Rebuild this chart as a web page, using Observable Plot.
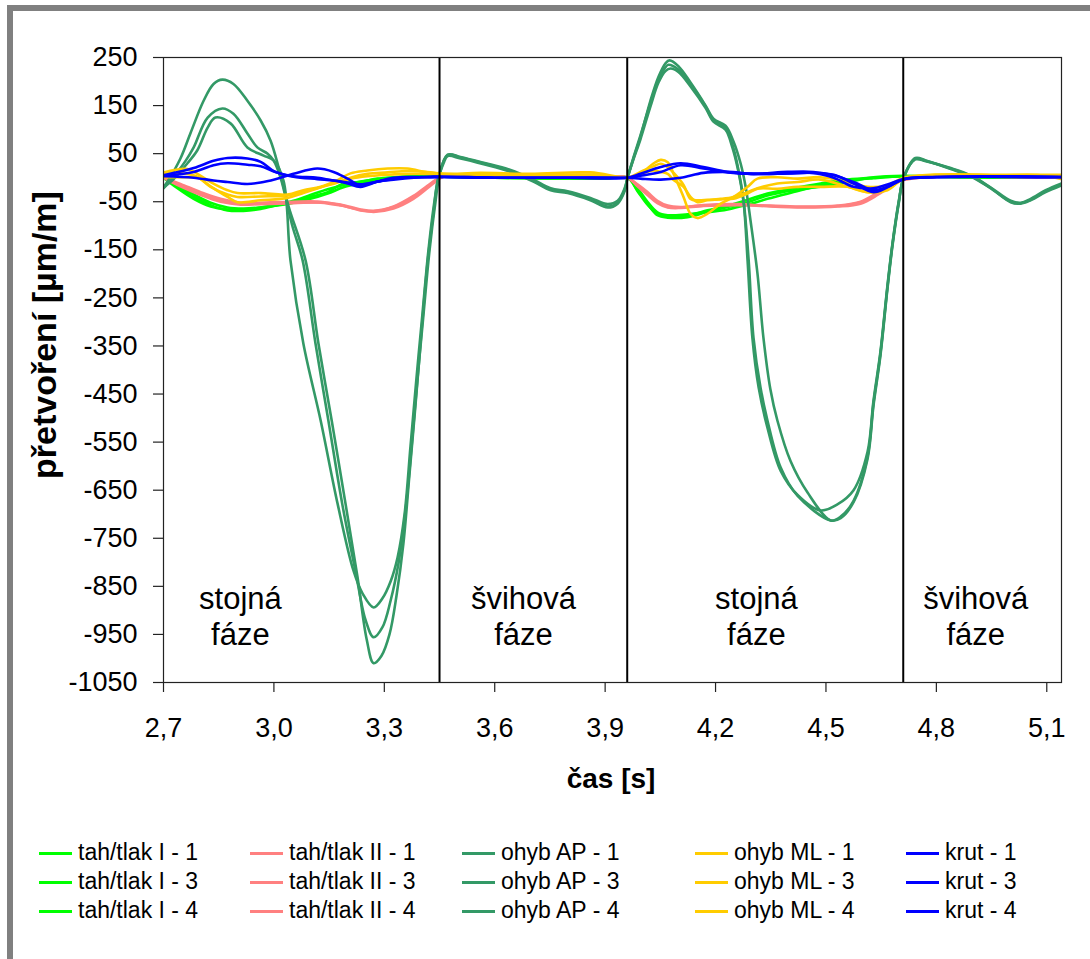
<!DOCTYPE html>
<html><head><meta charset="utf-8">
<script src="https://cdn.jsdelivr.net/npm/d3@7"></script>
<script src="https://cdn.jsdelivr.net/npm/@observablehq/plot@0.6"></script>
<style>
html,body{margin:0;padding:0;background:#fff;overflow:hidden;width:1090px;height:959px;}
body{font-family:"Liberation Sans",Arial,sans-serif;color:#000;position:relative;}
#frame{position:absolute;left:7px;top:5px;width:1100px;height:1000px;border:6px solid #808080;box-sizing:border-box;}
#chart{position:absolute;left:0;top:0;}
.title{position:absolute;font-weight:bold;white-space:nowrap;line-height:1;}
#ytitle{left:44px;top:335px;font-size:34px;transform:translate(-50%,-50%) rotate(-90deg);}
#xtitle{left:611px;top:779px;font-size:28px;transform:translate(-50%,-50%);}
.lg{position:absolute;font-size:23px;white-space:nowrap;line-height:1;}
.lg span.sw{position:absolute;left:0;top:-1.5px;width:33px;height:3px;}
.lg span.tx{position:absolute;left:39px;top:-12px;}
</style></head>
<body>
<div id="frame"></div>
<div id="chart"></div>
<div id="ytitle" class="title">přetvoření [µm/m]</div>
<div id="xtitle" class="title">čas [s]</div>
<div id="legend"></div>
<script>
// ---------- axis / annotation data ----------
const xTicks = [2.7, 3.0, 3.3, 3.6, 3.9, 4.2, 4.5, 4.8, 5.1];
const yTicks = [250, 150, 50, -50, -150, -250, -350, -450, -550, -650, -750, -850, -950, -1050];
const phaseBounds = [3.45, 3.96, 4.71];
const phaseNames = ["stojná\nfáze", "švihová\nfáze", "stojná\nfáze", "švihová\nfáze"];
const phaseLabelT = [2.909, 3.678, 4.311, 4.907];
const phaseLabelV = [-911, -911, -911, -911];

// ---------- tah/tlak I (green) ----------
const tahI_T = [2.700,2.738,2.782,2.828,2.874,2.917,2.964,3.010,3.053,3.099,3.146,3.189,3.235,3.282,3.325,3.417,3.461,3.600,3.750,3.900,3.961,3.988,4.015,4.042,4.070,4.124,4.178,4.233,4.287,4.341,4.412,4.485,4.559,4.629,4.711,4.800,4.950,5.140];
const tahI_1 = [0,-19,-40,-57,-68,-69,-65,-57,-50,-40,-30,-12,-9,-2,1,5,3,0,-2,-2,0,-26,-54,-78,-83,-82,-71,-61,-51,-37,-26,-19,-9,1,4,2,0,0];
const tahI_3 = [0,-15,-35,-52,-62,-64,-62,-58,-52,-44,-33,-20,-12,-5,0,3,2,0,-1,-2,0,-22,-50,-72,-78,-76,-72,-66,-56,-44,-30,-16,-6,-1,3,2,0,0];
const tahI_4 = [0,-22,-44,-60,-66,-67,-62,-56,-48,-36,-24,-15,-8,-3,0,3,2,0,-1,-1,0,-28,-56,-75,-80,-78,-68,-58,-46,-33,-22,-12,-4,0,3,2,0,0];

// ---------- tah/tlak II (salmon) ----------
const tahII_T = [2.700,2.746,2.801,2.855,2.909,2.964,3.053,3.127,3.181,3.235,3.271,3.325,3.379,3.417,3.445,3.461,3.600,3.750,3.900,3.961,3.988,4.015,4.042,4.070,4.105,4.167,4.260,4.349,4.439,4.532,4.594,4.640,4.676,4.711,4.800,4.950,5.140];
const tahII_1 = [0,-16,-33,-47,-54,-52,-50,-50,-57,-68,-70,-61,-40,-19,-3,2,3,3,2,0,-16,-33,-51,-61,-62,-57,-55,-59,-61,-59,-51,-33,-16,-4,2,2,0];
const tahII_3 = [0,-13,-30,-44,-52,-54,-52,-52,-58,-67,-71,-64,-44,-22,-5,2,3,3,2,0,-14,-30,-48,-58,-61,-58,-56,-60,-62,-60,-54,-36,-18,-5,2,2,0];
const tahII_4 = [0,-18,-36,-50,-56,-55,-53,-51,-56,-66,-69,-60,-38,-17,-2,2,3,3,2,0,-18,-36,-53,-62,-63,-59,-57,-58,-60,-58,-50,-31,-14,-3,2,2,0];

// ---------- ohyb AP (sea green) : [time, value] ----------
const ohybAP_1 = [[2.700,-20],[2.711,-8],[2.746,40],[2.773,92],[2.809,160],[2.836,195],[2.860,204],[2.890,195],[2.928,160],[2.964,119],[2.991,77],[3.013,21],[3.040,-60],[3.086,-172],[3.121,-345],[3.157,-505],[3.195,-680],[3.227,-830],[3.252,-960],[3.271,-1010],[3.292,-995],[3.314,-950],[3.333,-870],[3.352,-760],[3.368,-620],[3.385,-470],[3.401,-320],[3.417,-180],[3.434,-70],[3.447,0],[3.472,47],[3.507,42],[3.570,30],[3.643,14],[3.705,-6],[3.752,-24],[3.798,-30],[3.860,-45],[3.907,-60],[3.934,-52],[3.953,-25],[3.961,0],[3.977,40],[3.996,85],[4.023,160],[4.045,210],[4.064,238],[4.075,244],[4.099,232],[4.132,198],[4.173,150],[4.195,122],[4.227,108],[4.249,75],[4.268,30],[4.282,-20],[4.295,-89],[4.314,-200],[4.330,-332],[4.349,-440],[4.368,-505],[4.404,-590],[4.450,-655],[4.513,-713],[4.540,-705],[4.575,-672],[4.613,-580],[4.629,-470],[4.648,-366],[4.667,-228],[4.681,-137],[4.698,-50],[4.711,0],[4.743,40],[4.771,35],[4.839,18],[4.893,3],[4.947,-22],[5.002,-50],[5.029,-53],[5.056,-46],[5.097,-28],[5.140,-14]];
const ohybAP_3 = [[2.700,-22],[2.720,-5],[2.760,35],[2.782,63],[2.820,125],[2.860,144],[2.890,133],[2.928,92],[2.955,63],[2.983,50],[2.999,36],[3.018,0],[3.050,-100],[3.078,-172],[3.113,-345],[3.148,-505],[3.186,-680],[3.222,-820],[3.249,-920],[3.271,-956],[3.295,-935],[3.317,-880],[3.339,-800],[3.358,-690],[3.374,-560],[3.390,-420],[3.407,-280],[3.423,-150],[3.439,-50],[3.450,5],[3.472,48],[3.507,43],[3.570,31],[3.643,16],[3.705,-4],[3.752,-22],[3.798,-28],[3.860,-42],[3.907,-55],[3.934,-48],[3.953,-22],[3.961,0],[3.977,42],[3.996,88],[4.023,155],[4.045,205],[4.064,230],[4.072,235],[4.099,225],[4.132,195],[4.173,148],[4.195,118],[4.227,104],[4.246,68],[4.260,25],[4.276,-47],[4.290,-172],[4.303,-332],[4.322,-436],[4.341,-505],[4.377,-603],[4.423,-662],[4.513,-713],[4.540,-708],[4.575,-675],[4.613,-585],[4.629,-475],[4.648,-370],[4.667,-232],[4.681,-140],[4.698,-52],[4.711,0],[4.743,38],[4.771,34],[4.839,20],[4.893,5],[4.947,-20],[5.002,-48],[5.029,-52],[5.056,-44],[5.097,-26],[5.140,-12]];
const ohybAP_4 = [[2.700,-20],[2.725,-5],[2.765,30],[2.792,57],[2.820,104],[2.841,125],[2.882,113],[2.928,63],[2.972,46],[2.999,36],[3.026,-6],[3.045,-172],[3.080,-345],[3.127,-505],[3.173,-678],[3.216,-817],[3.241,-865],[3.271,-894],[3.295,-875],[3.317,-840],[3.336,-790],[3.355,-700],[3.371,-560],[3.387,-420],[3.404,-280],[3.420,-150],[3.436,-50],[3.447,0],[3.461,30],[3.472,45],[3.507,40],[3.570,28],[3.643,12],[3.705,-8],[3.752,-26],[3.798,-32],[3.860,-47],[3.907,-62],[3.934,-54],[3.953,-28],[3.961,0],[3.977,38],[3.996,80],[4.023,148],[4.045,198],[4.064,222],[4.078,227],[4.099,220],[4.132,190],[4.173,145],[4.195,116],[4.227,100],[4.246,62],[4.260,20],[4.276,-50],[4.287,-172],[4.300,-332],[4.317,-436],[4.341,-520],[4.377,-610],[4.423,-660],[4.485,-692],[4.530,-680],[4.575,-650],[4.613,-570],[4.629,-465],[4.648,-362],[4.667,-225],[4.681,-135],[4.698,-48],[4.711,0],[4.743,41],[4.771,36],[4.839,19],[4.893,4],[4.947,-21],[5.002,-51],[5.029,-54],[5.056,-47],[5.097,-30],[5.140,-16]];

// ---------- ohyb ML (yellow) ----------
const ohybML_T = [2.700,2.765,2.792,2.828,2.874,2.901,2.964,3.037,3.080,3.127,3.173,3.208,3.254,3.309,3.363,3.417,3.461,3.561,3.697,3.860,3.961,3.996,4.032,4.051,4.070,4.086,4.113,4.132,4.151,4.178,4.214,4.249,4.287,4.314,4.368,4.423,4.485,4.559,4.613,4.667,4.711,4.784,4.974,5.083,5.140];
const ohybML_1 = [11,18,8,-9,-26,-32,-32,-35,-26,-19,-5,9,15,19,19,11,8,10,8,11,0,8,30,37,32,8,-40,-75,-84,-75,-54,-40,-19,-2,1,-2,1,-9,-19,-16,0,6,6,6,6];
const ohybML_3 = [8,8,2,-19,-35,-40,-39,-37,-30,-20,-10,0,8,11,14,12,8,6,5,6,0,12,24,29,22,10,-15,-44,-47,-46,-44,-40,-30,-22,-12,-9,-4,-19,-30,-23,-2,5,5,5,4];
const ohybML_4 = [1,1,1,-18,-40,-51,-47,-42,-32,-20,-9,-2,3,6,8,8,6,4,4,6,0,8,15,12,8,-5,-19,-40,-51,-47,-45,-44,-33,-23,-23,-19,-19,-19,-30,-26,-2,4,5,5,-3];

// ---------- krut (blue) ----------
const krut_T = [2.700,2.782,2.836,2.874,2.928,2.964,3.004,3.053,3.118,3.162,3.200,3.235,3.282,3.325,3.417,3.461,3.600,3.800,3.961,3.996,4.051,4.105,4.167,4.233,4.303,4.396,4.466,4.521,4.575,4.629,4.667,4.711,4.800,5.140];
const krut_1 = [5,20,35,41,40,33,12,3,0,-6,-12,-19,-8,0,1,2,0,0,0,8,22,30,22,12,8,12,12,5,-9,-26,-19,-3,2,2];
const krut_3 = [4,12,26,30,27,24,12,2,-3,-6,-10,-14,-8,-2,1,1,0,0,0,4,12,26,19,11,8,9,10,6,-12,-30,-20,-3,1,1];
const krut_4 = [3,0,-6,-9,-13,-10,-3,8,19,12,-2,-16,-8,-4,2,2,0,0,0,-2,-4,0,10,12,8,9,10,0,-19,-22,-14,-3,1,1];

const colors = {tahI:"#00FF00", tahII:"#FF8080", ohybAP:"#339966", ohybML:"#FFCC00", krut:"#0000FF"};
const zip = (T, V) => T.map((t, i) => [t, V[i]]);

const series = [
  {name:"tah/tlak I - 1", color:colors.tahI, pts:zip(tahI_T, tahI_1)},
  {name:"tah/tlak I - 3", color:colors.tahI, pts:zip(tahI_T, tahI_3)},
  {name:"tah/tlak I - 4", color:colors.tahI, pts:zip(tahI_T, tahI_4)},
  {name:"tah/tlak II - 1", color:colors.tahII, pts:zip(tahII_T, tahII_1)},
  {name:"tah/tlak II - 3", color:colors.tahII, pts:zip(tahII_T, tahII_3)},
  {name:"tah/tlak II - 4", color:colors.tahII, pts:zip(tahII_T, tahII_4)},
  {name:"ohyb AP - 1", color:colors.ohybAP, pts:ohybAP_1},
  {name:"ohyb AP - 3", color:colors.ohybAP, pts:ohybAP_3},
  {name:"ohyb AP - 4", color:colors.ohybAP, pts:ohybAP_4},
  {name:"ohyb ML - 1", color:colors.ohybML, pts:zip(ohybML_T, ohybML_1)},
  {name:"ohyb ML - 3", color:colors.ohybML, pts:zip(ohybML_T, ohybML_3)},
  {name:"ohyb ML - 4", color:colors.ohybML, pts:zip(ohybML_T, ohybML_4)},
  {name:"krut - 1", color:colors.krut, pts:zip(krut_T, krut_1)},
  {name:"krut - 3", color:colors.krut, pts:zip(krut_T, krut_3)},
  {name:"krut - 4", color:colors.krut, pts:zip(krut_T, krut_4)}
];

const phaseLabels = phaseNames.map((s, i) => ({t: phaseLabelT[i], v: phaseLabelV[i], label: s}));
const fmtX = d => d.toFixed(1).replace(".", ",");
const fmtY = d => String(d);
const FONT = "'Liberation Sans', Arial, sans-serif";

const chart = Plot.plot({
  width: 1090, height: 760,
  marginLeft: 163, marginRight: 29, marginTop: 57, marginBottom: 78,
  style: {fontFamily: FONT, background: "transparent", color: "#000", overflow: "visible"},
  x: {domain: [2.7, 5.14]},
  y: {domain: [-1050, 250]},
  marks: [
    ...series.map(s => Plot.line(s.pts, {x: d => d[0], y: d => d[1], stroke: s.color, strokeWidth: 2.6, curve: "catmull-rom", clip: "frame"})),
    Plot.ruleX(phaseBounds, {stroke: "#000", strokeWidth: 2}),
    Plot.text(phaseLabels, {x: "t", y: "v", text: "label", fontSize: 31, lineHeight: 1.16, fill: "#000"}),
    Plot.frame({stroke: "#222", strokeWidth: 1.2}),
    Plot.axisX({ticks: xTicks, tickFormat: fmtX, tickSize: 10, tickPadding: 25, fontSize: 27, label: null, stroke: "#222", strokeWidth: 1.2}),
    Plot.axisY({ticks: yTicks, tickFormat: fmtY, tickSize: 10, tickPadding: 16, fontSize: 27, label: null, stroke: "#222", strokeWidth: 1.2})
  ]
});
document.getElementById("chart").appendChild(chart);

// ---------- legend ----------
const legendColX = [39, 250, 462, 695, 906];
const legendRowY = [853, 882, 911];
const legend = document.getElementById("legend");
series.forEach((s, i) => {
  const col = Math.floor(i / 3), row = i % 3;
  const el = document.createElement("div");
  el.className = "lg";
  el.style.left = legendColX[col] + "px";
  el.style.top = legendRowY[row] + "px";
  el.innerHTML = `<span class="sw" style="background:${s.color}"></span><span class="tx">${s.name}</span>`;
  legend.appendChild(el);
});
</script>
</body></html>
